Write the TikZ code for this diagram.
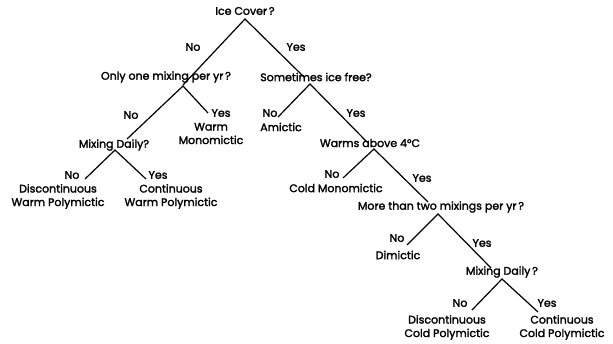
\documentclass[tikz,border=0pt]{standalone}
\usepackage{fontspec}
\setmainfont{Poppins}[UprightFeatures={FakeBold=2}]
\begin{document}
\begin{tikzpicture}[x=1pt,y=-1pt,
  lbl/.style={inner sep=0pt,font=\fontsize{11}{13.5}\selectfont,align=center},
  br/.style={line width=1.2pt}]
\useasboundingbox (0,0) rectangle (613,343);
% question nodes
\node[lbl] (q1) at (245,11) {Ice Cover\,?};
\node[lbl] (q2) at (166,77) {Only one mixing per yr\,?};
\node[lbl] (q3) at (316,77) {Sometimes ice free?};
\node[lbl] (q4) at (114,145) {Mixing Daily?};
\node[lbl] (q5) at (370,143) {Warms above 4°C};
\node[lbl] (q6) at (441,207) {More than two mixings per yr\,?};
\node[lbl] (q7) at (502,272) {Mixing Daily\,?};
% answers
\node[lbl] (n1) at (193,47) {No};
\node[lbl] (y1) at (296,47) {Yes};
\node[lbl] (n2) at (131,115) {No};
\node[lbl] (y2) at (221,113) {Yes};
\node[lbl] (n3) at (270,113) {No};
\node[lbl] (y3) at (356,113) {Yes};
\node[lbl] (n4) at (72,175) {No};
\node[lbl] (y4) at (158,175) {Yes};
\node[lbl] (n5) at (332,174) {No};
\node[lbl] (y5) at (422,178) {Yes};
\node[lbl] (n6) at (397,238) {No};
\node[lbl] (y6) at (482,243) {Yes};
\node[lbl] (n7) at (460,303) {No};
\node[lbl] (y7) at (547,303) {Yes};
% leaves
\node[lbl] (wm) at (211,133.5) {Warm\\Monomictic};
\node[lbl] (am) at (281,127) {Amictic};
\node[lbl] (dwp) at (58,196.5) {Discontinuous\\Warm Polymictic};
\node[lbl] (cwp) at (171,196.5) {Continuous\\Warm Polymictic};
\node[lbl] (cm) at (336,188) {Cold Monomictic};
\node[lbl] (dm) at (398,255) {Dimictic};
\node[lbl] (dcp) at (447,327.5) {Discontinuous\\Cold Polymictic};
\node[lbl] (ccp) at (562,327.5) {Continuous\\Cold Polymictic};
% vertices and branch ends
\coordinate (v1) at (245,19);
\coordinate (e1l) at (183,85);
\coordinate (e1r) at (304,77);
\coordinate (v2) at (183,86);
\coordinate (e2l) at (127,139);
\coordinate (e2r) at (208,113);
\coordinate (v3) at (310,84);
\coordinate (e3l) at (278,117);
\coordinate (e3r) at (367,142);
\coordinate (v4) at (115,150);
\coordinate (e4l) at (85,179);
\coordinate (e4r) at (146,179);
\coordinate (v5) at (374,149);
\coordinate (e5l) at (343,178);
\coordinate (e5r) at (428,202);
\coordinate (v6) at (438,214);
\coordinate (e6l) at (407,245);
\coordinate (e6r) at (491,268);
\coordinate (v7) at (502,279);
\coordinate (e7l) at (472,310);
\coordinate (e7r) at (538,312);
\draw[br] (e1l) -- (v1) -- (e1r);
\draw[br] (e2l) -- (v2) -- (e2r);
\draw[br] (e3l) -- (v3) -- (e3r);
\draw[br] (e4l) -- (v4) -- (e4r);
\draw[br] (e5l) -- (v5) -- (e5r);
\draw[br] (e6l) -- (v6) -- (e6r);
\draw[br] (e7l) -- (v7) -- (e7r);
\end{tikzpicture}
\end{document}
